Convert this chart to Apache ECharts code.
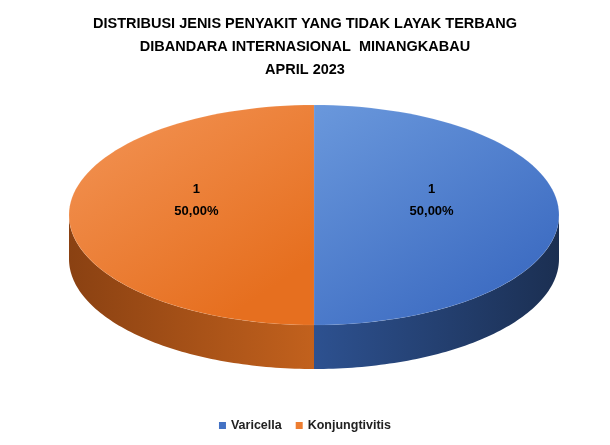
<!DOCTYPE html>
<html><head><meta charset="utf-8">
<script src="https://cdn.jsdelivr.net/npm/echarts@6/dist/echarts.min.js"></script>
<style>html,body{margin:0;padding:0;background:#fff}#c{width:610px;height:445px}</style>
</head><body><div id="c"></div>
<script>
const categories = ['Varicella', 'Konjungtivitis'];
const values = [1, 1];
const titleLines = ['DISTRIBUSI JENIS PENYAKIT YANG TIDAK LAYAK TERBANG', 'DIBANDARA INTERNASIONAL  MINANGKABAU', 'APRIL 2023'];

const topColors = [['#6a98dc', '#3d6cc2'], ['#f39557', '#e66f1f']];
const sideColors = [['#2d5190', '#1b2f52'], ['#8a4112', '#c2611d']];
const legendColors = ['#4472C4', '#ED7D31'];
const total = values.reduce((a, b) => a + b, 0);
const cx = 314, cy = 215, rx = 245, ry = 110, depth = 44;

function pt(a, dy) { return [cx + rx * Math.cos(a), cy + ry * Math.sin(a) + (dy || 0)]; }
function grad(c, horiz) {
  return new echarts.graphic.LinearGradient(0, 0, horiz ? 1 : 0.6, horiz ? 0 : 1, [{offset: 0, color: c[0]}, {offset: 1, color: c[1]}]);
}

let cum = 0;
const series = categories.map((name, i) => {
  const a0 = -Math.PI / 2 + cum / total * 2 * Math.PI;
  cum += values[i];
  const a1 = -Math.PI / 2 + cum / total * 2 * Math.PI;
  return {
    type: 'custom', name: name, coordinateSystem: 'none',
    itemStyle: {color: legendColors[i]},
    data: [values[i]],
    renderItem: function () {
      const children = [];
      const N = 80;
      const s0 = Math.max(a0, 0), s1 = Math.min(a1, Math.PI);
      if (s1 > s0) {
        const p = [];
        for (let k = 0; k <= N; k++) p.push(pt(s0 + (s1 - s0) * k / N));
        for (let k = N; k >= 0; k--) p.push(pt(s0 + (s1 - s0) * k / N, depth));
        children.push({type: 'polygon', z2: 1, shape: {points: p}, style: {fill: grad(sideColors[i], true)}});
      }
      const q = [[cx, cy]];
      for (let k = 0; k <= N; k++) q.push(pt(a0 + (a1 - a0) * k / N));
      children.push({type: 'polygon', z2: 10, shape: {points: q}, style: {fill: grad(topColors[i], false), stroke: 'rgba(255,255,255,0.15)', lineWidth: 0.5}});
      const am = (a0 + a1) / 2;
      const pct = (values[i] / total * 100).toFixed(2).replace('.', ',') + '%';
      children.push({type: 'text', z2: 20, x: cx + rx * 0.48 * Math.cos(am), y: cy - 15 + ry * 0.48 * Math.sin(am),
        style: {text: values[i] + '\n' + pct, fill: '#000', font: 'bold 13px "Liberation Sans", Arial', align: 'center', verticalAlign: 'middle', lineHeight: 22}});
      return {type: 'group', children: children};
    }
  };
});

const chart = echarts.init(document.getElementById('c'));
chart.setOption({
  animation: false,
  title: {text: titleLines.join('\n'), left: 'center', top: 7,
    textStyle: {fontSize: 14.5, fontWeight: 'bold', color: '#000', lineHeight: 23, fontFamily: '"Liberation Sans", Arial'}},
  legend: {data: categories, bottom: 8, left: 'center', icon: 'rect', itemWidth: 7, itemHeight: 7, itemGap: 14,
    textStyle: {fontSize: 12.5, fontWeight: 'bold', color: '#222', fontFamily: '"Liberation Sans", Arial'}},
  series: series
});
</script></body></html>
